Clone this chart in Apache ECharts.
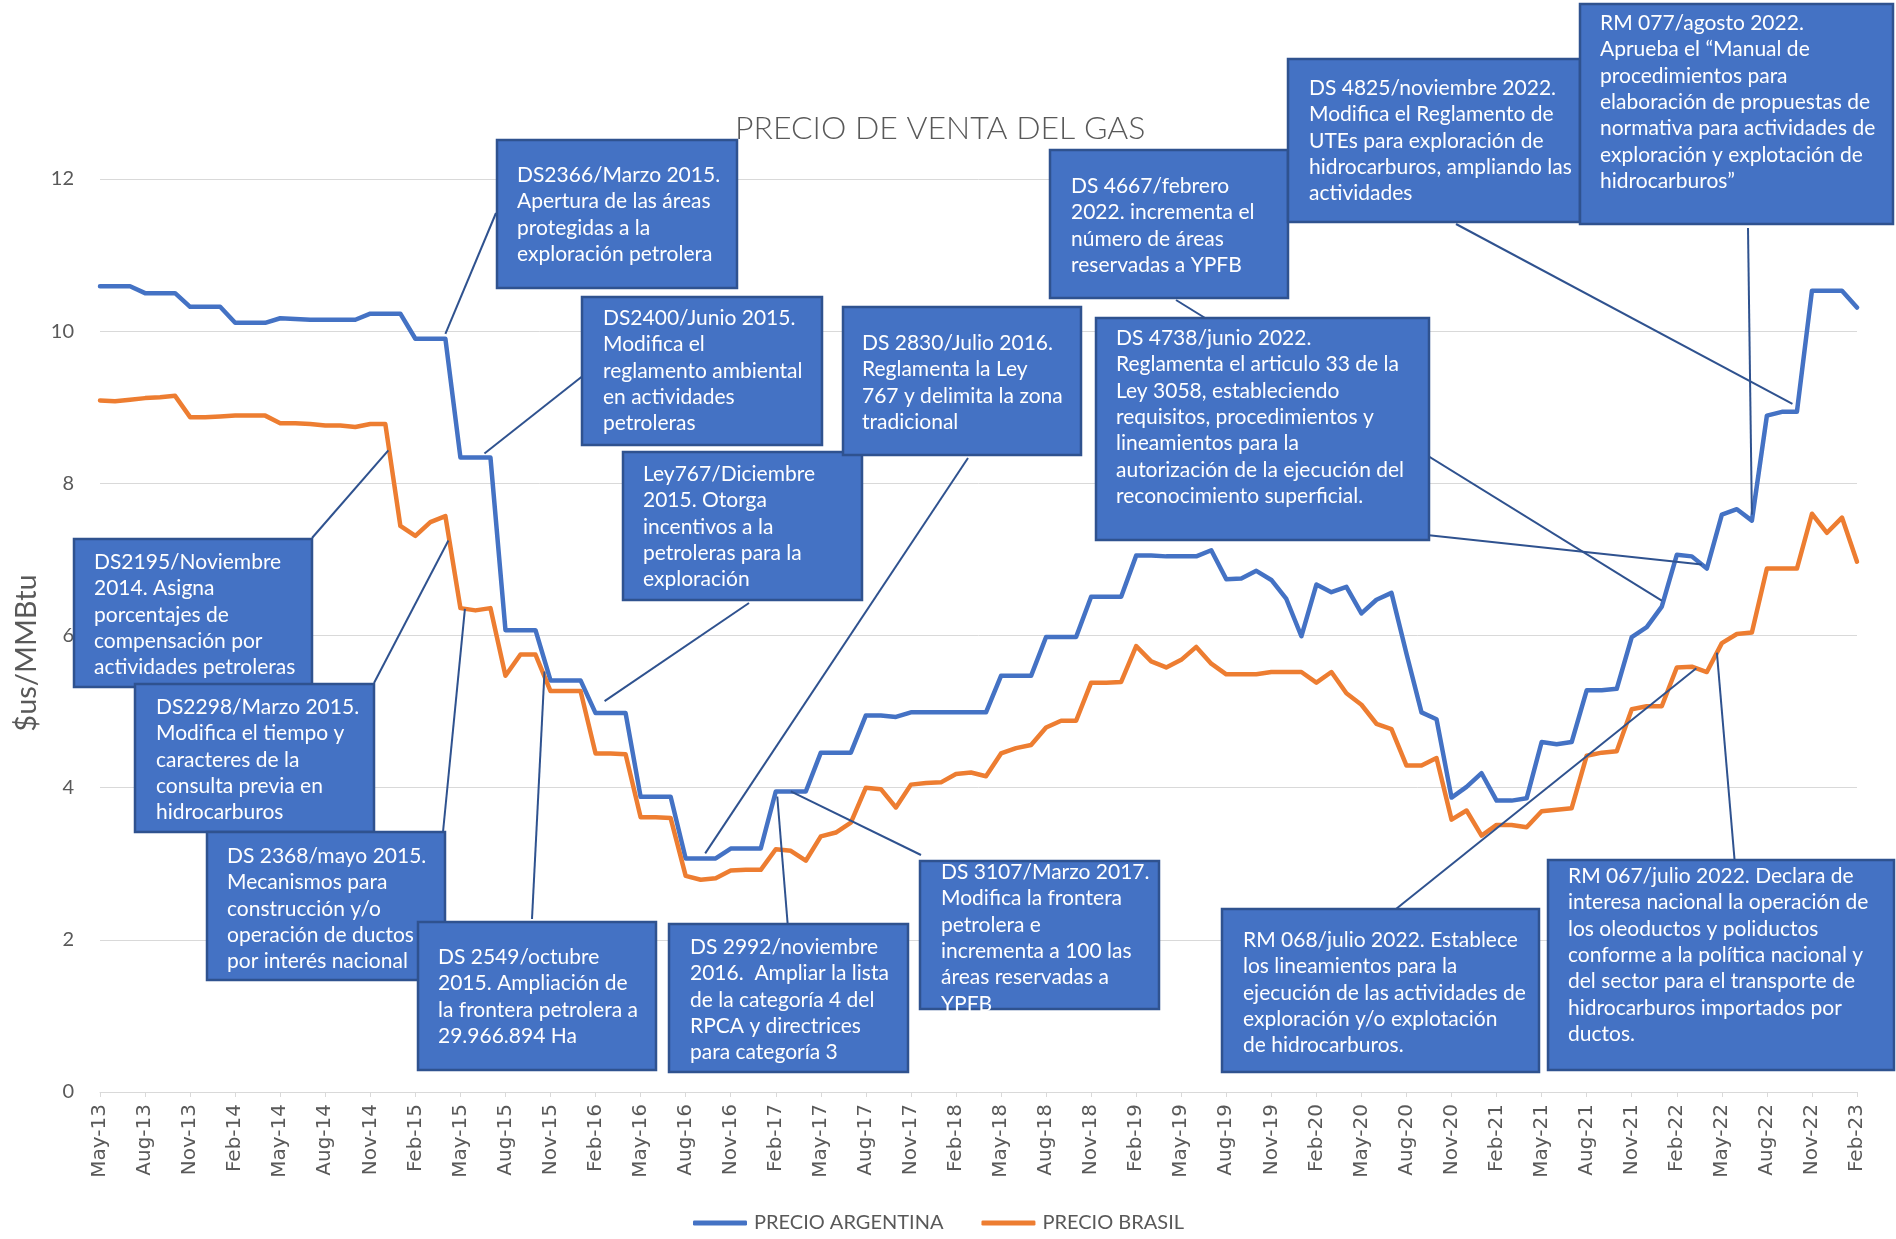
<!DOCTYPE html>
<html>
<head>
<meta charset="utf-8">
<script src="https://cdn.jsdelivr.net/npm/echarts@6/dist/echarts.min.js"></script>
<style>
  html, body { margin: 0; padding: 0; background: #fff; }
  #chart { width: 1896px; height: 1239px; }
</style>
</head>
<body>
<div id="chart"></div>
<script>
// precio mensual US$/MMBtu, may-2013 .. feb-2023
const argentina = [
  10.59, 10.59, 10.59, 10.50, 10.50, 10.50, 10.32, 10.32, 10.32, 10.11, 10.11, 10.11,
  10.17, 10.16, 10.15, 10.15, 10.15, 10.15, 10.23, 10.23, 10.23, 9.90, 9.90, 9.90,
  8.34, 8.34, 8.34, 6.07, 6.07, 6.07, 5.41, 5.41, 5.41, 4.98, 4.98, 4.98,
  3.88, 3.88, 3.88, 3.07, 3.07, 3.07, 3.20, 3.20, 3.20, 3.95, 3.95, 3.95,
  4.46, 4.46, 4.46, 4.95, 4.95, 4.93, 4.99, 4.99, 4.99, 4.99, 4.99, 4.99,
  5.47, 5.47, 5.47, 5.98, 5.98, 5.98, 6.51, 6.51, 6.51, 7.05, 7.05, 7.04,
  7.04, 7.04, 7.12, 6.74, 6.75, 6.85, 6.73, 6.48, 5.99, 6.67, 6.57, 6.64,
  6.29, 6.47, 6.56, 5.76, 4.99, 4.90, 3.87, 4.01, 4.19, 3.83, 3.83, 3.86,
  4.60, 4.57, 4.60, 5.28, 5.28, 5.30, 5.98, 6.11, 6.38, 7.06, 7.04, 6.88,
  7.59, 7.66, 7.51, 8.89, 8.94, 8.94, 10.53, 10.53, 10.53, 10.31
];
const brasil = [
  9.09, 9.08, 9.10, 9.12, 9.13, 9.15, 8.87, 8.87, 8.88, 8.89, 8.89, 8.89,
  8.79, 8.79, 8.78, 8.76, 8.76, 8.74, 8.78, 8.78, 7.44, 7.31, 7.49, 7.57,
  6.36, 6.33, 6.36, 5.47, 5.75, 5.75, 5.27, 5.27, 5.27, 4.45, 4.45, 4.44,
  3.61, 3.61, 3.60, 2.84, 2.79, 2.81, 2.91, 2.92, 2.92, 3.19, 3.17, 3.04,
  3.36, 3.41, 3.54, 4.00, 3.98, 3.74, 4.04, 4.06, 4.07, 4.18, 4.20, 4.15,
  4.45, 4.52, 4.56, 4.79, 4.88, 4.88, 5.38, 5.38, 5.39, 5.86, 5.66, 5.58,
  5.68, 5.85, 5.63, 5.49, 5.49, 5.49, 5.52, 5.52, 5.52, 5.38, 5.52, 5.24,
  5.09, 4.84, 4.77, 4.29, 4.29, 4.39, 3.58, 3.70, 3.37, 3.51, 3.51, 3.48,
  3.69, 3.71, 3.73, 4.42, 4.46, 4.48, 5.03, 5.07, 5.07, 5.58, 5.59, 5.52,
  5.90, 6.02, 6.04, 6.88, 6.88, 6.88, 7.60, 7.35, 7.55, 6.97
];
const yTicks = [0, 2, 4, 6, 8, 10, 12];
const monthNames = ["Jan", "Feb", "Mar", "Apr", "May", "Jun", "Jul", "Aug", "Sep", "Oct", "Nov", "Dec"];
const months = [];
for (let k = 0; k < argentina.length; k++) {
  months.push(monthNames[(4 + k) % 12] + "-" + (13 + Math.floor((4 + k) / 12)));
}

// cuadros de normativa: caja [x, y, w, h], texto [x, centro 1a linea], origen de la flecha, destino [serie, indice, dy]
const notes = [
  { lines: ["DS2366/Marzo 2015.", "Apertura de las áreas", "protegidas a la", "exploración petrolera"],
    box: [497, 140, 240, 148], text: [517, 175], from: [496, 213], to: [0, 23, -5] },
  { lines: ["DS2400/Junio 2015.", "Modifica el", "reglamento ambiental", "en actividades", "petroleras"],
    box: [582, 297, 240, 148], text: [603, 318], from: [589, 371], to: [0, 25.6, -4] },
  { lines: ["Ley767/Diciembre", "2015. Otorga", "incentivos a la", "petroleras para la", "exploración"],
    box: [623, 452, 239, 148], text: [643, 474], from: [749, 603], to: [0, 33.6, -12] },
  { lines: ["DS 2830/Julio 2016.", "Reglamenta la Ley", "767 y delimita la zona", "tradicional"],
    box: [843, 307, 238, 148], text: [862, 343], from: [968, 458], to: [0, 40.3, -5] },
  { lines: ["DS 4667/febrero", "2022. incrementa el", "número de áreas", "reservadas a YPFB"],
    box: [1050, 150, 238, 148], text: [1071, 186], from: [1176, 300], to: [0, 104, -6] },
  { lines: ["DS 4825/noviembre 2022.", "Modifica el Reglamento de", "UTEs para exploración de", "hidrocarburos, ampliando las", "actividades"],
    box: [1288, 59, 292, 163], text: [1309, 88], from: [1456, 224], to: [0, 112.7, -8] },
  { lines: ["RM 077/agosto 2022.", "Aprueba el “Manual de", "procedimientos para", "elaboración de propuestas de", "normativa para actividades de", "exploración y explotación de", "hidrocarburos”"],
    box: [1580, 4, 313, 220], text: [1600, 23], from: [1748, 228], to: [0, 110, -6] },
  { lines: ["DS 4738/junio 2022.", "Reglamenta el articulo 33 de la", "Ley 3058, estableciendo", "requisitos, procedimientos y", "lineamientos para la", "autorización de la ejecución del", "reconocimiento superficial."],
    box: [1096, 318, 333, 222], text: [1116, 338], from: [1408, 533], to: [0, 106.67, 0] },
  { lines: ["DS2195/Noviembre", "2014. Asigna", "porcentajes de", "compensación por", "actividades petroleras"],
    box: [74, 539, 238, 148], text: [94, 562], from: [312, 538], to: [1, 19.2, 6] },
  { lines: ["DS2298/Marzo 2015.", "Modifica el tiempo y", "caracteres de la", "consulta previa en", "hidrocarburos"],
    box: [135, 684, 239, 148], text: [156, 707], from: [374, 683], to: [1, 23.2, 6] },
  { lines: ["DS 2368/mayo 2015.", "Mecanismos para", "construcción y/o", "operación de ductos", "por interés nacional"],
    box: [207, 832, 238, 148], text: [227, 856], from: [443, 832], to: [1, 24.3, 0] },
  { lines: ["DS 2549/octubre", "2015. Ampliación de", "la frontera petrolera a", "29.966.894 Ha"],
    box: [418, 922, 238, 148], text: [438, 957], from: [532, 919], to: [1, 29.6, -5] },
  { lines: ["DS 2992/noviembre", "2016.  Ampliar la lista", "de la categoría 4 del", "RPCA y directrices", "para categoría 3"],
    box: [669, 924, 239, 148], text: [690, 947], from: [788, 928], to: [0, 45.1, 5] },
  { lines: ["DS 3107/Marzo 2017.", "Modifica la frontera", "petrolera e", "incrementa a 100 las", "áreas reservadas a", "YPFB"],
    box: [920, 861, 239, 148], text: [941, 872], from: [921, 855], to: [0, 46, 0] },
  { lines: ["RM 068/julio 2022. Establece", "los lineamientos para la", "ejecución de las actividades de", "exploración y/o explotación", "de hidrocarburos."],
    box: [1222, 909, 317, 163], text: [1243, 940], from: [1391, 913], to: [1, 106.3, 0] },
  { lines: ["RM 067/julio 2022. Declara de", "interesa nacional la operación de", "los oleoductos y poliductos", "conforme a la política nacional y", "del sector para el transporte de", "hidrocarburos importados por", "ductos."],
    box: [1548, 860, 346, 210], text: [1568, 876], from: [1735, 865], to: [1, 107.67, 0] }
];

const grey = "#595959";
const chart = echarts.init(document.getElementById("chart"));
chart.setOption({
  animation: false,
  backgroundColor: "#fff",
  title: {
    text: "PRECIO DE VENTA DEL GAS",
    left: 730,
    top: 105,
    textStyle: { fontFamily: "Lato", fontSize: 32, fontWeight: 300, color: grey, lineHeight: 38 }
  },
  legend: {
    data: ["PRECIO ARGENTINA", "PRECIO BRASIL"],
    left: 688,
    top: 1208,
    icon: "roundRect",
    itemWidth: 54,
    itemHeight: 5,
    itemGap: 38,
    textStyle: { fontFamily: "Lato", fontSize: 20, color: grey, padding: [0, 0, 0, 2] }
  },
  grid: { left: 100, right: 39, top: 179, bottom: 147 },
  xAxis: {
    type: "category",
    data: months,
    boundaryGap: false,
    axisLine: { lineStyle: { color: "#D9D9D9", width: 1 } },
    axisTick: { show: true, interval: 2, length: 5, lineStyle: { color: "#D9D9D9" } },
    axisLabel: { interval: 2, rotate: 90, margin: 12, fontFamily: "DejaVu Sans", fontSize: 20, color: grey },
    splitLine: { show: false }
  },
  yAxis: {
    type: "value",
    min: yTicks[0],
    max: yTicks[yTicks.length - 1],
    interval: yTicks[1] - yTicks[0],
    axisLine: { show: false },
    axisTick: { show: false },
    axisLabel: { margin: 26, fontFamily: "Lato", fontSize: 20, color: grey },
    splitLine: { lineStyle: { color: "#D9D9D9", width: 1 } }
  },
  series: [
    {
      name: "PRECIO ARGENTINA",
      type: "line",
      data: argentina,
      symbol: "none",
      color: "#4472C4",
      lineStyle: { width: 4.5, cap: "round", join: "round" }
    },
    {
      name: "PRECIO BRASIL",
      type: "line",
      data: brasil,
      symbol: "none",
      color: "#ED7D31",
      lineStyle: { width: 4.5, cap: "round", join: "round" }
    }
  ]
});

// punto sobre la serie (indice fraccionario = entre dos meses)
function onSeries(s, idx, dy) {
  const data = s === 0 ? argentina : brasil;
  const i0 = Math.floor(idx);
  const i1 = Math.min(i0 + 1, data.length - 1);
  const f = idx - i0;
  const a = chart.convertToPixel({ gridIndex: 0 }, [i0, data[i0]]);
  const b = chart.convertToPixel({ gridIndex: 0 }, [i1, data[i1]]);
  return [a[0] + (b[0] - a[0]) * f, a[1] + (b[1] - a[1]) * f + dy];
}

const elements = [];
notes.forEach((n) => {
  const end = onSeries(n.to[0], n.to[1], n.to[2]);
  elements.push({
    type: "line",
    z: 50,
    shape: { x1: n.from[0], y1: n.from[1], x2: end[0], y2: end[1] },
    style: { stroke: "#2F528F", lineWidth: 2 }
  });
});
notes.forEach((n) => {
  elements.push({
    type: "rect",
    z: 60,
    shape: { x: n.box[0], y: n.box[1], width: n.box[2], height: n.box[3] },
    style: { fill: "#4472C4", stroke: "#2F528F", lineWidth: 2.5 }
  });
  elements.push({
    type: "text",
    z: 61,
    x: n.text[0],
    y: n.text[1] - 13.2,
    style: {
      text: n.lines.join("\n"),
      fill: "#fff",
      fontFamily: "Lato",
      fontSize: 21,
      lineHeight: 26.4,
      verticalAlign: "top"
    }
  });
});
elements.push({
  type: "text",
  z: 61,
  x: 27,
  y: 653,
  rotation: Math.PI / 2,
  style: { text: "$us/MMBtu", fill: grey, fontFamily: "Lato", fontSize: 29, align: "center", verticalAlign: "middle" }
});
chart.setOption({ graphic: elements });
</script>
</body>
</html>
